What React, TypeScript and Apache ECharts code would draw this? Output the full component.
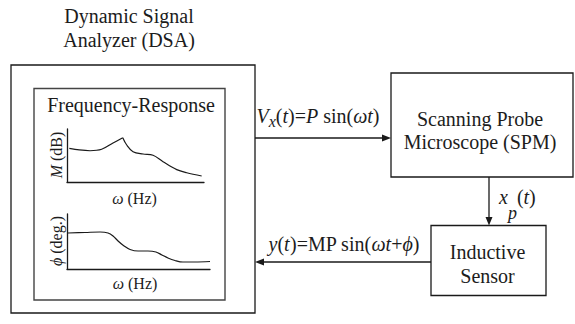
import React, { useEffect, useRef } from "react";
import * as echarts from "echarts";

// ---- texts ----
const titleLines = ["Dynamic Signal", "Analyzer (DSA)"];
const panelTitle = "Frequency-Response";
const spmLines = ["Scanning Probe", "Microscope (SPM)"];
const sensorLines = ["Inductive", "Sensor"];

// ---- curves (x: 0-100 along ω axis, y: 0-100 along vertical axis) ----
const magRise: [number, number][] = [
  [1.7, 63.6], [9, 60.5], [16.8, 59], [25.3, 61.7], [33.6, 73.6], [40.7, 83.6],
];
const magFall: [number, number][] = [
  [40.7, 83.6], [43.6, 69.8], [48.2, 57.2], [55.5, 52.8], [62.8, 50.4],
  [70.1, 38.3], [80.1, 23.4], [87.4, 17.5], [98.3, 11.3],
];
const phase: [number, number][] = [
  [0.7, 65.5], [12.6, 66.4], [23.1, 67.3], [28.7, 65.5], [32.2, 60], [35.7, 50.9],
  [39.9, 41.8], [44.1, 35.5], [49.7, 32.7], [56.6, 32.7], [62.2, 30.9], [66.4, 25.5],
  [70.6, 20], [75.5, 15.5], [81.1, 12.7], [89.5, 12.7], [100, 13.6],
];

const FONT = "Liberation Serif";
const INK = "#1c1c1c";
const LINE = "#1a1a1a";

const tok = (size: number, italic: boolean, extra: any = {}) => {
  const t: any = { fontSize: size, fontFamily: FONT, fill: INK, ...extra };
  if (italic) t.fontStyle = "italic";
  return t;
};

const rich = {
  n: tok(20, false),
  i: tok(20, true),
  s: tok(16, true, { padding: [10, 0, 0, 0] }),
  p: tok(18, true, { padding: [32, 0, 0, 0] }),
  an: tok(16, false),
  ai: tok(16, true),
};

function richText(x: number, y: number, t: string, align = "center", rotation = 0) {
  return {
    type: "text",
    x,
    y,
    rotation,
    silent: true,
    style: {
      text: t,
      rich,
      align,
      verticalAlign: "middle",
      fontSize: 20,
      fontFamily: FONT,
      fill: INK,
    },
  };
}

function text(x: number, y: number, t: string) {
  return {
    type: "text",
    x,
    y,
    silent: true,
    style: { text: t, align: "center", verticalAlign: "middle", fontSize: 20, fontFamily: FONT, fill: INK },
  };
}

function line(x1: number, y1: number, x2: number, y2: number, w = 1.3) {
  return { type: "line", silent: true, shape: { x1, y1, x2, y2 }, style: { stroke: LINE, lineWidth: w } };
}

function box(x: number, y: number, width: number, height: number, stroke = LINE, w = 1.3) {
  return { type: "rect", silent: true, shape: { x, y, width, height }, style: { fill: "none", stroke, lineWidth: w } };
}

function head(points: number[][]) {
  return { type: "polygon", silent: true, shape: { points }, style: { fill: LINE } };
}

const axisCommon = (gridIndex: number) => ({
  gridIndex,
  type: "value",
  min: 0,
  max: 100,
  axisLine: { show: true, onZero: false, lineStyle: { color: LINE, width: 1.3 } },
  axisTick: { show: false },
  axisLabel: { show: false },
  splitLine: { show: false },
});

const curve = (data: [number, number][], idx: number) => ({
  type: "line",
  xAxisIndex: idx,
  yAxisIndex: idx,
  data,
  smooth: 0.35,
  showSymbol: false,
  silent: true,
  lineStyle: { color: LINE, width: 1.2 },
});

export default function App() {
  const ref = useRef<HTMLDivElement>(null);
  useEffect(() => {
    document.body.style.margin = "0";
    const chart = echarts.init(ref.current!, null, { renderer: "svg" });
    const option: any = {
      animation: false,
      backgroundColor: "#ffffff",
      grid: [
        { left: 67, top: 129, width: 137, height: 53 },
        { left: 67, top: 214, width: 143, height: 55 },
      ],
      xAxis: [axisCommon(0), axisCommon(1)],
      yAxis: [axisCommon(0), axisCommon(1)],
      series: [curve(magRise, 0), curve(magFall, 0), curve(phase, 1)],
      graphic: [
        // DSA
        text(129, 15.5, titleLines[0]),
        text(129, 40, titleLines[1]),
        box(11, 65, 244, 248),
        box(34, 88.5, 191, 211.5, "#444", 1.4),
        text(131, 105, panelTitle),
        richText(56, 155, "{ai|M}{an| (dB)}", "center", Math.PI / 2),
        richText(134.5, 198, "{ai|ω}{an| (Hz)}"),
        richText(56, 241, "{ai|ϕ}{an| (deg.)}", "center", Math.PI / 2),
        richText(135, 283, "{ai|ω}{an| (Hz)}"),
        // SPM
        box(391, 73, 182, 104),
        text(480, 119, spmLines[0]),
        text(480, 142, spmLines[1]),
        // Sensor
        box(431, 225.5, 115, 70),
        text(487.5, 252, sensorLines[0]),
        text(487.5, 276, sensorLines[1]),
        // arrow DSA -> SPM
        line(255, 138, 384, 138),
        head([[391, 138], [382, 134.5], [382, 141.5]]),
        richText(318, 116, "{i|V}{s|x}{n|(}{i|t}{n|)=}{i|P}{n| sin(}{i|ωt}{n|)}"),
        // arrow SPM -> sensor
        line(489, 177, 489, 219),
        head([[489, 225.5], [485.5, 217], [492.5, 217]]),
        richText(499, 197, "{i|x}{p|p}{n|(}{i|t}{n|)}", "left"),
        // arrow sensor -> DSA
        line(431, 262, 262, 262),
        head([[255, 262], [264, 258.5], [264, 265.5]]),
        richText(344, 244, "{i|y}{n|(}{i|t}{n|)=MP sin(}{i|ωt}{n|+}{i|ϕ}{n|)}"),
      ],
    };
    chart.setOption(option);
    return () => chart.dispose();
  }, []);
  return <div ref={ref} style={{ width: 575, height: 324 }} />;
}
